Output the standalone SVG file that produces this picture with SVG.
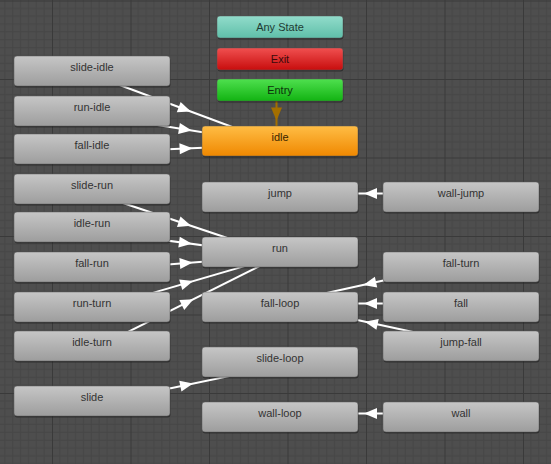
<svg xmlns="http://www.w3.org/2000/svg" width="551" height="464" viewBox="0 0 551 464">
<defs>
<pattern id="grid" patternUnits="userSpaceOnUse" x="52" y="0.5" width="78.5" height="78.5">
<rect width="78.5" height="78.5" fill="#4e4e4e"/>
<g stroke="#464646" stroke-width="1">
<path d="M7.85 0V78.5M15.7 0V78.5M23.55 0V78.5M31.4 0V78.5M39.25 0V78.5M47.1 0V78.5M54.95 0V78.5M62.8 0V78.5M70.65 0V78.5"/>
<path d="M0 7.85H78.5M0 15.7H78.5M0 23.55H78.5M0 31.4H78.5M0 39.25H78.5M0 47.1H78.5M0 54.95H78.5M0 62.8H78.5M0 70.65H78.5"/>
</g>
<path d="M0.5 0V78.5M0 0.5H78.5" stroke="#3a3a3a" stroke-width="1"/>
</pattern>
<linearGradient id="gGray" x1="0" y1="0" x2="0" y2="1"><stop offset="0" stop-color="#c6c6c6"/><stop offset="1" stop-color="#9d9d9d"/></linearGradient>
<linearGradient id="gTeal" x1="0" y1="0" x2="0" y2="1"><stop offset="0" stop-color="#92dccb"/><stop offset="1" stop-color="#5fbfa9"/></linearGradient>
<linearGradient id="gRed" x1="0" y1="0" x2="0" y2="1"><stop offset="0" stop-color="#f05050"/><stop offset="1" stop-color="#c80d0d"/></linearGradient>
<linearGradient id="gGreen" x1="0" y1="0" x2="0" y2="1"><stop offset="0" stop-color="#4fe04f"/><stop offset="1" stop-color="#12b312"/></linearGradient>
<linearGradient id="gOrange" x1="0" y1="0" x2="0" y2="1"><stop offset="0" stop-color="#ffbd45"/><stop offset="1" stop-color="#f08800"/></linearGradient>
<polygon id="ah" points="6.5,0 -6.5,-5.5 -6.5,5.5"/>
</defs>
<style>
.node rect.b{stroke:#5a5a5a;stroke-width:0.5}
.node rect.s{fill:#000;opacity:0.35}
.node text{font-family:"Liberation Sans","DejaVu Sans",sans-serif;font-size:11px;fill:#333333;text-anchor:middle}
.conn line{stroke:#ffffff;stroke-width:2}
.conn use{fill:#ffffff}
.entry line{stroke:#a36f00;stroke-width:2}
.entry use{fill:#a36f00}
</style>
<rect width="551" height="464" fill="url(#grid)"/>

<g id="connectors" class="conn">
<line x1="90.8" y1="74.3" x2="278.8" y2="144.3"/><use href="#ah" transform="translate(184.8,109.3) rotate(20.4)"/>
<line x1="91.4" y1="114.5" x2="279.4" y2="144.5"/><use href="#ah" transform="translate(185.4,129.5) rotate(9.07)"/>
<line x1="92.1" y1="152.5" x2="280.1" y2="144.5"/><use href="#ah" transform="translate(186.1,148.5) rotate(-2.44)"/>
<g class="entry"><line x1="276.5" y1="90" x2="276.5" y2="141"/><use href="#ah" transform="translate(276.5,114) rotate(90)"/></g>
<line x1="90.9" y1="192.3" x2="278.9" y2="255.3"/><use href="#ah" transform="translate(184.9,223.8) rotate(18.5)"/>
<line x1="91.5" y1="230.5" x2="279.5" y2="255.5"/><use href="#ah" transform="translate(185.5,243) rotate(7.57)"/>
<line x1="92.3" y1="270.5" x2="280.3" y2="255.5"/><use href="#ah" transform="translate(186.3,263) rotate(-4.56)"/>
<line x1="93" y1="310.4" x2="281" y2="255.4"/><use href="#ah" transform="translate(187,282.9) rotate(-16.3)"/>
<line x1="93.6" y1="349.1" x2="281.6" y2="255.1"/><use href="#ah" transform="translate(187.6,302.1) rotate(-26.6)"/>
<line x1="461" y1="193.5" x2="280" y2="193.5"/><use href="#ah" transform="translate(370.5,193.5) rotate(180)"/>
<line x1="460.2" y1="263.6" x2="279.2" y2="303.6"/><use href="#ah" transform="translate(369.7,283.6) rotate(167.5)"/>
<line x1="461" y1="303.5" x2="280" y2="303.5"/><use href="#ah" transform="translate(370.5,303.5) rotate(180)"/>
<line x1="461.7" y1="342.6" x2="280.7" y2="303.6"/><use href="#ah" transform="translate(371.2,323.1) rotate(192.2)"/>
<line x1="92.7" y1="404.4" x2="280.7" y2="365.4"/><use href="#ah" transform="translate(186.7,384.9) rotate(-11.7)"/>
<line x1="461" y1="413.5" x2="280" y2="413.5"/><use href="#ah" transform="translate(370.5,413.5) rotate(180)"/>
</g>

<g id="any-state" class="node"><rect class="s" x="217.5" y="17.5" width="126" height="22" rx="3"/><rect class="b" x="217" y="16" width="126" height="22" rx="3" fill="url(#gTeal)"/><text x="280" y="31" style="fill:#1f3b33">Any State</text></g>
<g id="exit" class="node"><rect class="s" x="217.5" y="49.5" width="126" height="22" rx="3"/><rect class="b" x="217" y="48" width="126" height="22" rx="3" fill="url(#gRed)"/><text x="280" y="63" style="fill:#3a0a0a">Exit</text></g>
<g id="entry" class="node"><rect class="s" x="217.5" y="80.5" width="126" height="22" rx="3"/><rect class="b" x="217" y="79" width="126" height="22" rx="3" fill="url(#gGreen)"/><text x="280" y="94" style="fill:#0c320c">Entry</text></g>
<g id="idle" class="node"><rect class="s" x="202.5" y="127.5" width="156" height="30" rx="3"/><rect class="b" x="202" y="126" width="156" height="30" rx="3" fill="url(#gOrange)"/><text x="280" y="141" style="fill:#3a2500">idle</text></g>

<g id="slide-idle" class="node"><rect class="s" x="14.5" y="57.5" width="156" height="30" rx="3"/><rect class="b" x="14" y="56" width="156" height="30" rx="3" fill="url(#gGray)"/><text x="92" y="71">slide-idle</text></g>
<g id="run-idle" class="node"><rect class="s" x="14.5" y="97.5" width="156" height="30" rx="3"/><rect class="b" x="14" y="96" width="156" height="30" rx="3" fill="url(#gGray)"/><text x="92" y="111">run-idle</text></g>
<g id="fall-idle" class="node"><rect class="s" x="14.5" y="135.5" width="156" height="30" rx="3"/><rect class="b" x="14" y="134" width="156" height="30" rx="3" fill="url(#gGray)"/><text x="92" y="149">fall-idle</text></g>
<g id="slide-run" class="node"><rect class="s" x="14.5" y="175.5" width="156" height="30" rx="3"/><rect class="b" x="14" y="174" width="156" height="30" rx="3" fill="url(#gGray)"/><text x="92" y="189">slide-run</text></g>
<g id="idle-run" class="node"><rect class="s" x="14.5" y="213.5" width="156" height="30" rx="3"/><rect class="b" x="14" y="212" width="156" height="30" rx="3" fill="url(#gGray)"/><text x="92" y="227">idle-run</text></g>
<g id="fall-run" class="node"><rect class="s" x="14.5" y="253.5" width="156" height="30" rx="3"/><rect class="b" x="14" y="252" width="156" height="30" rx="3" fill="url(#gGray)"/><text x="92" y="267">fall-run</text></g>
<g id="run-turn" class="node"><rect class="s" x="14.5" y="293.5" width="156" height="30" rx="3"/><rect class="b" x="14" y="292" width="156" height="30" rx="3" fill="url(#gGray)"/><text x="92" y="307">run-turn</text></g>
<g id="idle-turn" class="node"><rect class="s" x="14.5" y="332.5" width="156" height="30" rx="3"/><rect class="b" x="14" y="331" width="156" height="30" rx="3" fill="url(#gGray)"/><text x="92" y="346">idle-turn</text></g>
<g id="slide" class="node"><rect class="s" x="14.5" y="387.5" width="156" height="30" rx="3"/><rect class="b" x="14" y="386" width="156" height="30" rx="3" fill="url(#gGray)"/><text x="92" y="401">slide</text></g>

<g id="jump" class="node"><rect class="s" x="202.5" y="183.5" width="156" height="30" rx="3"/><rect class="b" x="202" y="182" width="156" height="30" rx="3" fill="url(#gGray)"/><text x="280" y="197">jump</text></g>
<g id="run" class="node"><rect class="s" x="202.5" y="238.5" width="156" height="30" rx="3"/><rect class="b" x="202" y="237" width="156" height="30" rx="3" fill="url(#gGray)"/><text x="280" y="252">run</text></g>
<g id="fall-loop" class="node"><rect class="s" x="202.5" y="293.5" width="156" height="30" rx="3"/><rect class="b" x="202" y="292" width="156" height="30" rx="3" fill="url(#gGray)"/><text x="280" y="307">fall-loop</text></g>
<g id="slide-loop" class="node"><rect class="s" x="202.5" y="348.5" width="156" height="30" rx="3"/><rect class="b" x="202" y="347" width="156" height="30" rx="3" fill="url(#gGray)"/><text x="280" y="362">slide-loop</text></g>
<g id="wall-loop" class="node"><rect class="s" x="202.5" y="403.5" width="156" height="30" rx="3"/><rect class="b" x="202" y="402" width="156" height="30" rx="3" fill="url(#gGray)"/><text x="280" y="417">wall-loop</text></g>

<g id="wall-jump" class="node"><rect class="s" x="383.5" y="183.5" width="156" height="30" rx="3"/><rect class="b" x="383" y="182" width="156" height="30" rx="3" fill="url(#gGray)"/><text x="461" y="197">wall-jump</text></g>
<g id="fall-turn" class="node"><rect class="s" x="383.5" y="253.5" width="156" height="30" rx="3"/><rect class="b" x="383" y="252" width="156" height="30" rx="3" fill="url(#gGray)"/><text x="461" y="267">fall-turn</text></g>
<g id="fall" class="node"><rect class="s" x="383.5" y="293.5" width="156" height="30" rx="3"/><rect class="b" x="383" y="292" width="156" height="30" rx="3" fill="url(#gGray)"/><text x="461" y="307">fall</text></g>
<g id="jump-fall" class="node"><rect class="s" x="383.5" y="332.5" width="156" height="30" rx="3"/><rect class="b" x="383" y="331" width="156" height="30" rx="3" fill="url(#gGray)"/><text x="461" y="346">jump-fall</text></g>
<g id="wall" class="node"><rect class="s" x="383.5" y="403.5" width="156" height="30" rx="3"/><rect class="b" x="383" y="402" width="156" height="30" rx="3" fill="url(#gGray)"/><text x="461" y="417">wall</text></g>
</svg>
